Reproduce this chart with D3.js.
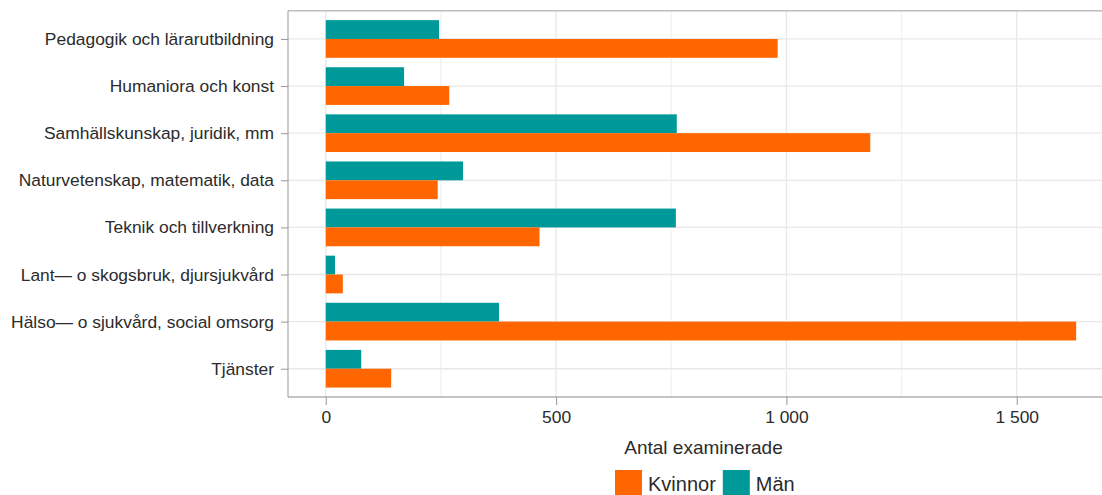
<!DOCTYPE html>
<html>
<head>
<meta charset="utf-8">
<script src="https://cdn.jsdelivr.net/npm/d3@7"></script>
<style>
  html, body { margin: 0; padding: 0; background: #fff; }
  svg { display: block; font-family: "Liberation Sans", Arial, sans-serif; }
</style>
</head>
<body>
<svg id="chart" width="1102" height="495"></svg>
<script>
const categories = [
  "Pedagogik och lärarutbildning",
  "Humaniora och konst",
  "Samhällskunskap, juridik, mm",
  "Naturvetenskap, matematik, data",
  "Teknik och tillverkning",
  "Lant\u2014 o skogsbruk, djursjukvård",
  "Hälso\u2014 o sjukvård, social omsorg",
  "Tjänster"
];
const seriesNames = ["Kvinnor", "Män"];
const kvinnor = [981, 268, 1182, 243, 464, 37, 1629, 142];
const man = [246, 170, 762, 298, 760, 20, 376, 77];
const xTicks = [0, 500, 1000, 1500];
const xMinor = [250, 750, 1250];
const xTitle = "Antal examinerade";
const colors = { "Kvinnor": "#ff6600", "Män": "#009999" };

const svg = d3.select("#chart");
const W = 1102, H = 495;
const panel = { left: 288, top: 10.7, bottom: 397, right: 1119 };

const x = d3.scaleLinear().domain([-82, 1722]).range([panel.left, panel.right]);
const y = d3.scalePoint().domain(categories).range([panel.top, panel.bottom]).padding(0.6);
const step = y.step();
const sub = d3.scaleBand().domain(["Män", "Kvinnor"]).range([-0.4 * step, 0.4 * step]);

const clip = svg.append("defs").append("clipPath").attr("id", "pclip")
  .append("rect").attr("x", panel.left).attr("y", panel.top - 2)
  .attr("width", W - panel.left).attr("height", panel.bottom - panel.top + 4);

const g = svg.append("g").attr("clip-path", "url(#pclip)");

// minor grid
g.selectAll("line.minor").data(xMinor).join("line")
  .attr("x1", d => x(d)).attr("x2", d => x(d))
  .attr("y1", panel.top).attr("y2", panel.bottom)
  .attr("stroke", "#f4f4f4").attr("stroke-width", 1.6);
// major grid
g.selectAll("line.majx").data(xTicks).join("line")
  .attr("x1", d => x(d)).attr("x2", d => x(d))
  .attr("y1", panel.top).attr("y2", panel.bottom)
  .attr("stroke", "#e8e8e8").attr("stroke-width", 1.3);
g.selectAll("line.majy").data(categories).join("line")
  .attr("x1", panel.left).attr("x2", W)
  .attr("y1", d => y(d)).attr("y2", d => y(d))
  .attr("stroke", "#e8e8e8").attr("stroke-width", 1.3);

// bars
const rows = [];
categories.forEach((c, i) => {
  rows.push({ cat: c, s: "Män", v: man[i] });
  rows.push({ cat: c, s: "Kvinnor", v: kvinnor[i] });
});
g.selectAll("rect.bar").data(rows).join("rect")
  .attr("x", d => x(0))
  .attr("y", d => y(d.cat) + sub(d.s))
  .attr("width", d => x(d.v) - x(0))
  .attr("height", sub.bandwidth())
  .attr("fill", d => colors[d.s]);

// borders
svg.append("line").attr("x1", panel.left).attr("x2", W)
  .attr("y1", panel.top).attr("y2", panel.top)
  .attr("stroke", "#bdbdbd").attr("stroke-width", 1.5);

// y axis
const yAxis = d3.axisLeft(y).tickSize(7).tickPadding(7);
const ya = svg.append("g").attr("transform", `translate(${panel.left},0)`).call(yAxis);
ya.select(".domain").attr("stroke", "#999").attr("d", `M0,${panel.top}V${panel.bottom}`);
ya.selectAll(".tick line").attr("stroke", "#999");
ya.selectAll(".tick text").attr("fill", "#2b2b2b").style("font-size", "17.4px")
  .style("font-family", '"Liberation Sans", Arial, sans-serif');

// x axis
const loc = d3.formatLocale({ decimal: ",", thousands: "\u00a0", grouping: [3], currency: ["", " kr"] });
const fmt = loc.format(",");
const xAxis = d3.axisBottom(x).tickValues(xTicks).tickFormat(fmt).tickSize(8).tickPadding(6);
const xa = svg.append("g").attr("transform", `translate(0,${panel.bottom})`).call(xAxis);
xa.select(".domain").attr("stroke", "#888").attr("d", `M${panel.left},0H${W}`);
xa.selectAll(".tick line").attr("stroke", "#999");
xa.selectAll(".tick text").attr("fill", "#2b2b2b").style("font-size", "17.4px")
  .style("font-family", '"Liberation Sans", Arial, sans-serif');

// x title
svg.append("text").attr("x", (panel.left + panel.right) / 2).attr("y", 447)
  .attr("text-anchor", "middle").attr("dominant-baseline", "central")
  .attr("fill", "#2b2b2b").style("font-size", "19px").text(xTitle);

// legend
const legend = svg.append("g");
const keyW = 27, keyH = 25, ky = 470;
let lx = 615;
seriesNames.forEach(s => {
  legend.append("rect").attr("x", lx).attr("y", ky).attr("width", keyW).attr("height", keyH)
    .attr("fill", colors[s]);
  const t = legend.append("text").attr("x", lx + keyW + 6).attr("y", ky + keyH / 2 + 1)
    .attr("dominant-baseline", "central").attr("fill", "#2b2b2b")
    .style("font-size", "20px").text(s);
  lx = lx + keyW + 6 + t.node().getComputedTextLength() + 7;
});
</script>
</body>
</html>
